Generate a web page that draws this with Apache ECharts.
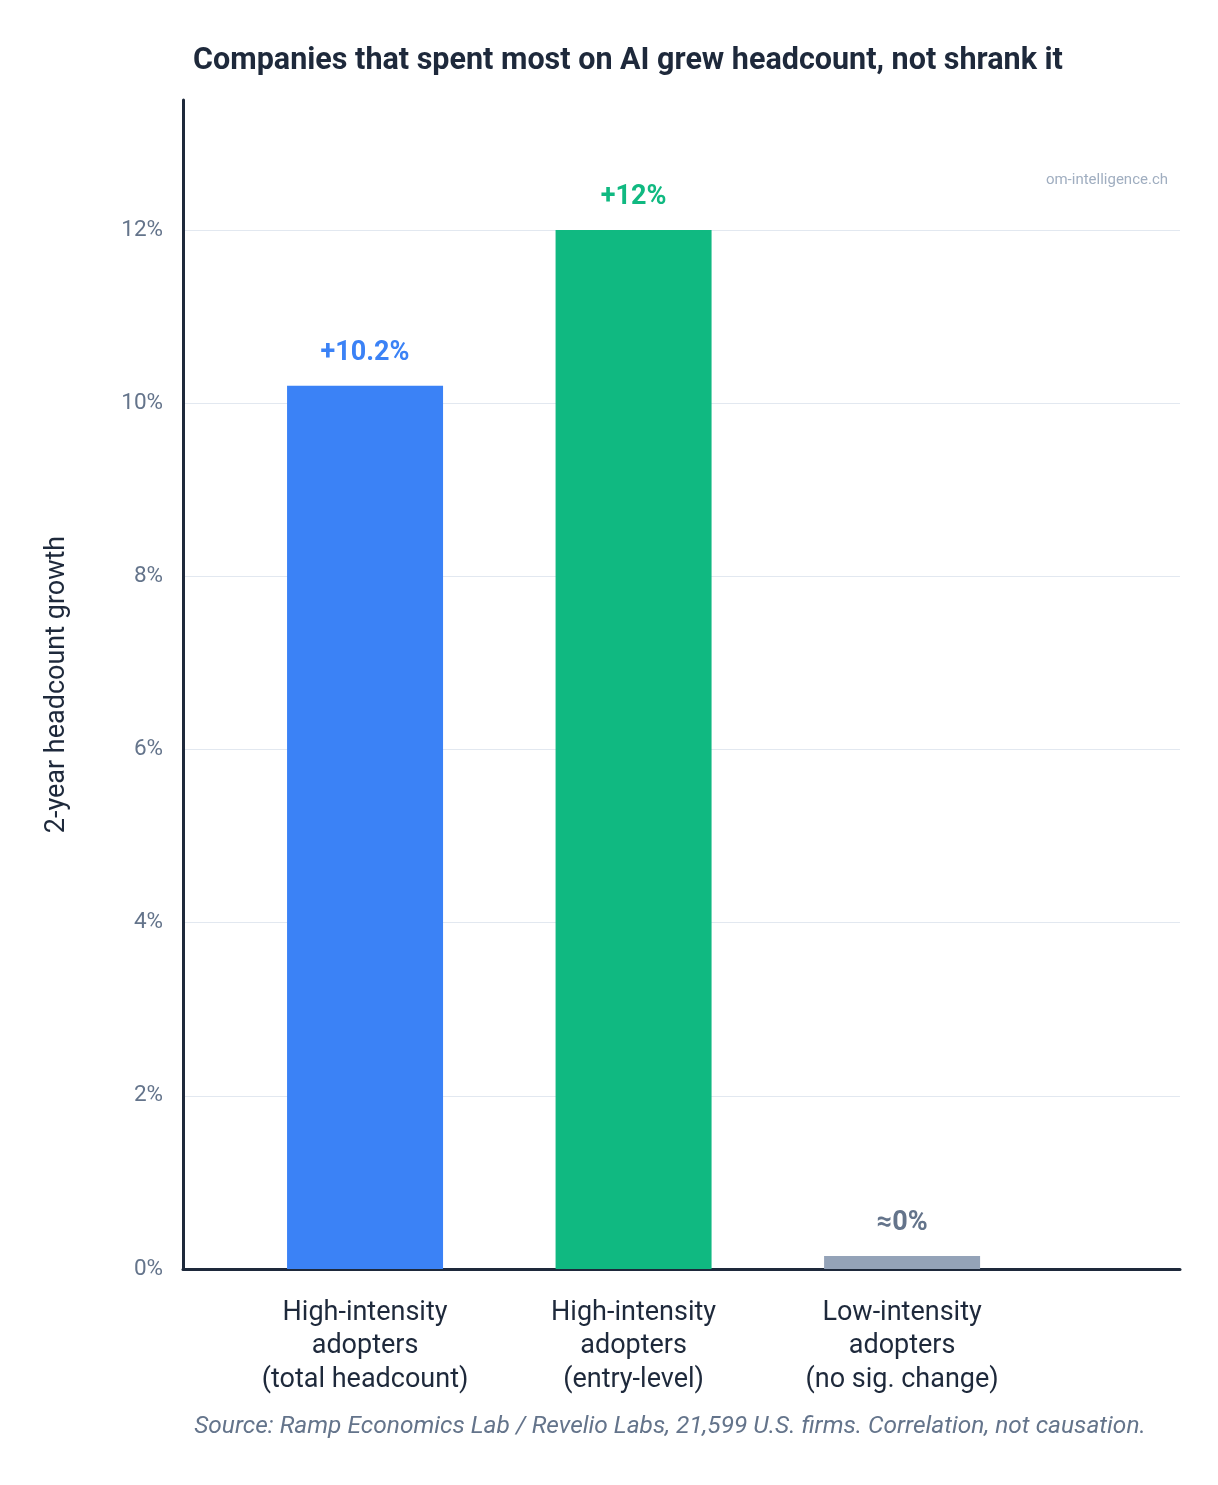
<!DOCTYPE html>
<html>
<head>
<meta charset="utf-8">
<script src="https://cdn.jsdelivr.net/npm/echarts@6/dist/echarts.min.js"></script>
<style>
  html, body { margin: 0; padding: 0; background: #fff; }
  #chart { width: 1218px; height: 1485px; }
</style>
</head>
<body>
<div id="chart"></div>
<script>
// categories and values
const categories = [
  "High-intensity\nadopters\n(total headcount)",
  "High-intensity\nadopters\n(entry-level)",
  "Low-intensity\nadopters\n(no sig. change)"
];
const values = [10.2, 12, 0.15];
const valueLabels = ["+10.2%", "+12%", "≈0%"];
const barColors = ["#3b82f6", "#10b981", "#94a3b8"];
const labelColors = ["#3b82f6", "#10b981", "#64748b"];
const yTicks = [0, 2, 4, 6, 8, 10, 12];

const chart = echarts.init(document.getElementById("chart"));
const font = "Roboto, 'Noto Sans', sans-serif";

const option = {
  animation: false,
  textStyle: { fontFamily: font },
  title: [
    {
      text: "Companies that spent most on AI grew headcount, not shrank it",
      left: 623, top: 41, textAlign: "center",
      textStyle: { fontSize: 30.5, fontWeight: "bold", color: "#1e293b", fontFamily: font }
    },
    {
      text: "om-intelligence.ch",
      right: 45, top: 168,
      textStyle: { fontSize: 15, fontWeight: "normal", color: "#a0aec0", fontFamily: font }
    },
    {
      text: "Source: Ramp Economics Lab / Revelio Labs, 21,599 U.S. firms. Correlation, not causation.",
      left: 665, top: 1409, textAlign: "center",
      textStyle: { fontSize: 24.5, fontWeight: "normal", fontStyle: "italic", color: "#64748b", fontFamily: font }
    }
  ],
  grid: { left: 183, right: 38, top: 100, bottom: 216 },
  xAxis: {
    type: "value",
    min: -0.678,
    max: 3.035,
    splitLine: { show: false },
    axisTick: { show: false },
    axisLine: { show: true, onZero: false, lineStyle: { color: "#1e293b", width: 3 } },
    axisLabel: {
      customValues: [0, 1, 2],
      margin: 27,
      fontSize: 27,
      lineHeight: 33.5,
      color: "#1e293b",
      fontFamily: font,
      formatter: v => categories[Math.round(v)] || ""
    }
  },
  yAxis: {
    type: "value",
    min: 0,
    max: 13.5,
    interval: 2,
    name: "2-year headcount growth",
    nameLocation: "middle",
    nameGap: 112,
    nameTextStyle: { fontSize: 27, color: "#1e293b", fontFamily: font },
    axisLine: { show: true, onZero: false, lineStyle: { color: "#1e293b", width: 3 } },
    axisTick: { show: false },
    axisLabel: {
      fontSize: 22.5, color: "#64748b", margin: 20, fontFamily: font,
      showMaxLabel: false,
      formatter: v => (yTicks.indexOf(v) >= 0 ? v + "%" : "")
    },
    splitLine: { show: true, showMaxLine: false, lineStyle: { color: "#e2e8f0", width: 1 } }
  },
  series: [
    {
      type: "bar",
      barWidth: 156,
      data: values.map((v, i) => ({
        value: [i, v],
        itemStyle: { color: barColors[i] },
        label: {
          show: true,
          position: "top",
          distance: 19,
          formatter: valueLabels[i],
          fontSize: 27,
          fontWeight: "bold",
          color: labelColors[i],
          fontFamily: font
        }
      }))
    }
  ]
};

chart.setOption(option);
</script>
</body>
</html>
